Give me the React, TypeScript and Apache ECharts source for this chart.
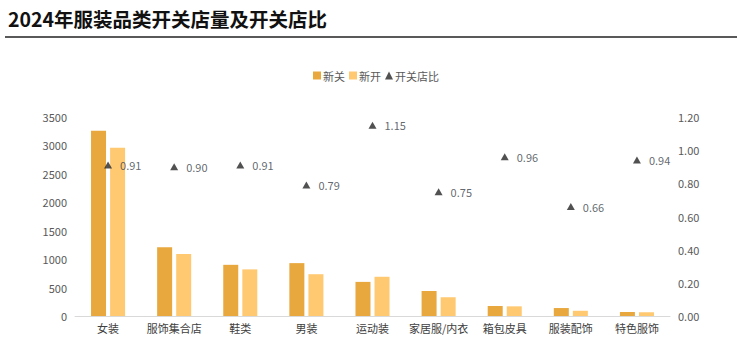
import React, { useEffect, useRef } from "react";
import * as echarts from "echarts";

const categories = ["女装", "服饰集合店", "鞋类", "男装", "运动装", "家居服/内衣", "箱包皮具", "服装配饰", "特色服饰"];
const closed = [3260, 1210, 900, 930, 600, 440, 176, 140, 70];
const opened = [2960, 1090, 820, 735, 690, 330, 170, 92, 66];
const ratio = [0.91, 0.9, 0.91, 0.79, 1.15, 0.75, 0.96, 0.66, 0.94];

const FONT = "'Noto Sans CJK SC', 'Noto Sans', sans-serif";

export default function App() {
  const ref = useRef<HTMLDivElement>(null);
  useEffect(() => {
    if (!ref.current) return;
    const chart = echarts.init(ref.current, undefined, { renderer: "svg" });
    chart.setOption({
      animation: false,
      textStyle: { fontFamily: FONT },
      title: {
        text: "2024年服装品类开关店量及开关店比",
        left: 3,
        top: 4,
        textStyle: { fontSize: 19.5, fontWeight: "bold", color: "#111", fontFamily: FONT },
      },
      graphic: [
        { type: "rect", shape: { x: 5, y: 36, width: 732, height: 2 }, style: { fill: "#595959" } },
      ],
      legend: {
        top: 65,
        left: 308,
        itemWidth: 8,
        itemHeight: 8,
        itemGap: 4,
        textStyle: { fontSize: 11, color: "#595959", padding: [0, 0, 0, -3] },
        data: [
          { name: "新关", icon: "rect" },
          { name: "新开", icon: "rect" },
          { name: "开关店比", icon: "triangle" },
        ],
      },
      grid: { left: 75, right: 67, top: 117, bottom: 44 },
      xAxis: {
        type: "category",
        data: categories,
        axisLine: { lineStyle: { color: "#d9d9d9", width: 1 } },
        axisTick: { show: false },
        axisLabel: { color: "#404040", fontSize: 11, margin: 6, interval: 0 },
      },
      yAxis: [
        {
          type: "value",
          min: 0,
          max: 3500,
          interval: 500,
          splitLine: { show: false },
          axisLine: { show: false },
          axisLabel: { color: "#595959", fontSize: 11, margin: 8, formatter: (v: number) => String(v) },
        },
        {
          type: "value",
          min: 0,
          max: 1.2,
          interval: 0.2,
          splitLine: { show: false },
          axisLine: { show: false },
          axisLabel: { color: "#595959", fontSize: 11, margin: 8, formatter: (v: number) => v.toFixed(2) },
        },
      ],
      series: [
        {
          name: "新关",
          type: "bar",
          data: closed,
          barWidth: 15,
          barGap: "27%",
          itemStyle: { color: "#E8A83E" },
        },
        {
          name: "新开",
          type: "bar",
          data: opened,
          barWidth: 15,
          itemStyle: { color: "#FFC972" },
        },
        {
          name: "开关店比",
          type: "scatter",
          yAxisIndex: 1,
          data: ratio,
          symbol: "triangle",
          symbolSize: [8, 7],
          itemStyle: { color: "#262626" },
          label: {
            show: true,
            position: "right",
            distance: 8,
            color: "#3a3f4a",
            fontSize: 11,
            formatter: (p: any) => Number(p.value).toFixed(2),
          },
        },
      ],
    });
    return () => chart.dispose();
  }, []);
  return <div ref={ref} style={{ position: "absolute", left: 0, top: 0, width: 737, height: 360 }} />;
}
